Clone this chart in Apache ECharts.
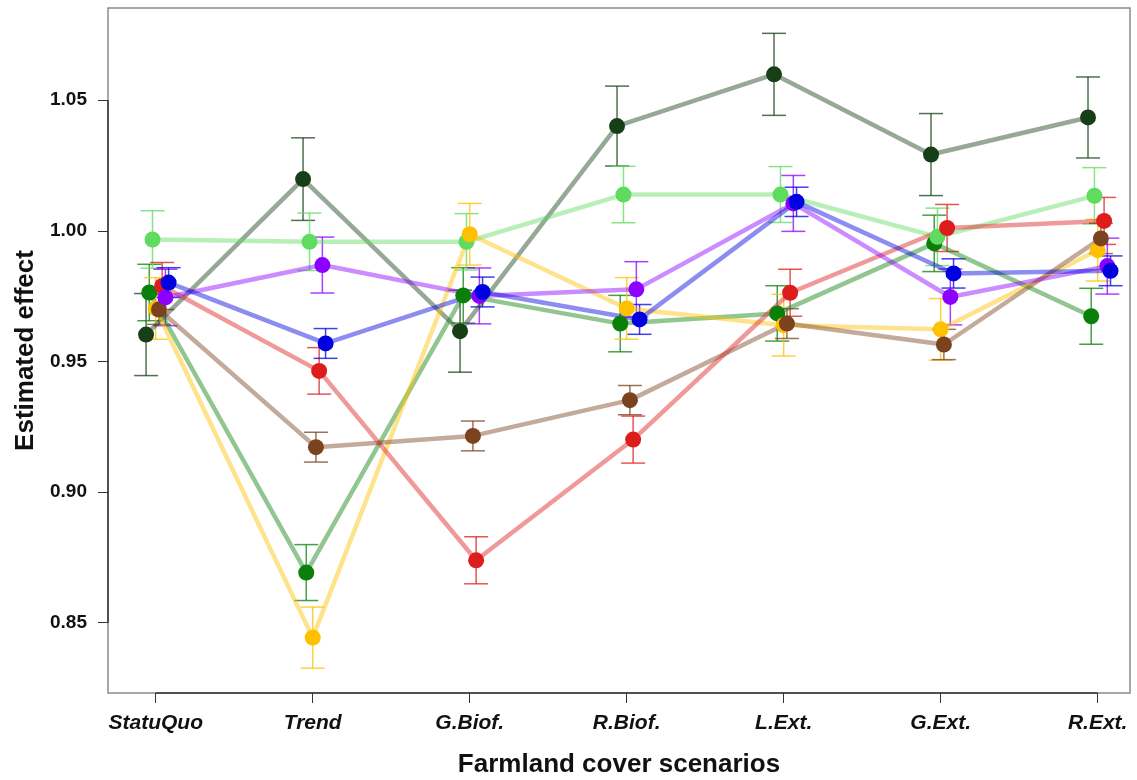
<!DOCTYPE html>
<html>
<head>
<meta charset="utf-8">
<script src="https://cdn.jsdelivr.net/npm/echarts@6/dist/echarts.min.js"></script>
<style>
html,body{margin:0;padding:0;background:#fff;}
#chart{width:1137px;height:780px;}
</style>
</head>
<body>
<div id="chart"></div>
<script>
const categories = ['StatuQuo','Trend','G.Biof.','R.Biof.','L.Ext.','G.Ext.','R.Ext.'];
const yTicks = [0.85, 0.90, 0.95, 1.00, 1.05];

const darkGreen    = [0.9603, 1.0198, 0.9616, 1.0401, 1.0599, 1.0292, 1.0434];
const darkGreenErr = [0.0157, 0.0158, 0.0157, 0.0153, 0.0157, 0.0157, 0.0155];
const lightGreen    = [0.9967, 0.9958, 0.9958, 1.0139, 1.0139, 0.9977, 1.0134];
const lightGreenErr = [0.0110, 0.0110, 0.0108, 0.0108, 0.0107, 0.0110, 0.0108];
const green    = [0.9764, 0.8692, 0.9753, 0.9645, 0.9684, 0.9952, 0.9673];
const greenErr = [0.0108, 0.0107, 0.0106, 0.0108, 0.0106, 0.0108, 0.0107];
const yellow    = [0.9703, 0.8443, 0.9987, 0.9703, 0.9639, 0.9623, 0.9926];
const yellowErr = [0.0118, 0.0117, 0.0118, 0.0118, 0.0118, 0.0118, 0.0118];
const brown    = [0.9699, 0.9172, 0.9215, 0.9352, 0.9645, 0.9565, 0.9971];
const brownErr = [0.0057, 0.0057, 0.0057, 0.0056, 0.0057, 0.0058, 0.0058];
const red    = [0.9789, 0.9464, 0.8739, 0.9201, 0.9763, 1.0011, 1.0038];
const redErr = [0.0090, 0.0089, 0.0090, 0.0090, 0.0090, 0.0090, 0.0090];
const purple    = [0.9745, 0.9869, 0.9751, 0.9776, 1.0105, 0.9747, 0.9865];
const purpleErr = [0.0108, 0.0107, 0.0107, 0.0106, 0.0107, 0.0107, 0.0107];
const blue    = [0.9802, 0.9569, 0.9766, 0.9661, 1.0111, 0.9837, 0.9847];
const blueErr = [0.0057, 0.0057, 0.0057, 0.0057, 0.0056, 0.0056, 0.0057];

const groups = [
  {name:'Group 1', vals:darkGreen,  err:darkGreenErr,  color:'#173f17', rgb:'23,63,23'},
  {name:'Group 2', vals:green,      err:greenErr,      color:'#0a800a', rgb:'10,128,10'},
  {name:'Group 3', vals:lightGreen, err:lightGreenErr, color:'#5fdc5f', rgb:'95,220,95'},
  {name:'Group 4', vals:yellow,     err:yellowErr,     color:'#ffc000', rgb:'255,192,0'},
  {name:'Group 5', vals:brown,      err:brownErr,      color:'#7b421e', rgb:'123,66,30'},
  {name:'Group 6', vals:red,        err:redErr,        color:'#dd1c1c', rgb:'221,28,28'},
  {name:'Group 7', vals:purple,     err:purpleErr,     color:'#8c00ff', rgb:'140,0,255'},
  {name:'Group 8', vals:blue,       err:blueErr,       color:'#0000e0', rgb:'0,0,224'}
];

const FONT = 'Liberation Sans, Arial, Helvetica, sans-serif';
const dodge = 0.0205;
const series = [];
groups.forEach((g, gi) => {
  const off = (gi - 3) * dodge;
  const errData = g.vals.map((v, i) => [i + 1 + off, v - g.err[i], v + g.err[i]]);
  const errColor = 'rgba(' + g.rgb + ',0.75)';
  series.push({
    type: 'custom',
    name: g.name,
    silent: true,
    data: errData,
    renderItem: function (params, api) {
      const x = api.value(0), lo = api.value(1), hi = api.value(2);
      const pHi = api.coord([x, hi]), pLo = api.coord([x, lo]);
      const w = 12;
      const st = {stroke: errColor, lineWidth: 1.5};
      return {type: 'group', children: [
        {type: 'line', shape: {x1: pHi[0], y1: pHi[1], x2: pLo[0], y2: pLo[1]}, style: st},
        {type: 'line', shape: {x1: pHi[0] - w, y1: pHi[1], x2: pHi[0] + w, y2: pHi[1]}, style: st},
        {type: 'line', shape: {x1: pLo[0] - w, y1: pLo[1], x2: pLo[0] + w, y2: pLo[1]}, style: st}
      ]};
    }
  });
  series.push({
    type: 'line',
    name: g.name,
    data: g.vals.map((v, i) => [i + 1 + off, v]),
    symbol: 'circle',
    symbolSize: 16,
    lineStyle: {color: g.color, width: 4.5, opacity: 0.45},
    itemStyle: {color: g.color, opacity: 1},
    emphasis: {disabled: true},
    animation: false
  });
});

// R-style axis segments (from first to last tick)
series.push({
  type: 'custom',
  silent: true,
  data: [[1, 7, yTicks[0], yTicks[yTicks.length - 1]]],
  renderItem: function (params, api) {
    const cs = params.coordSys;
    const xa = api.coord([api.value(0), yTicks[0]])[0];
    const xb = api.coord([api.value(1), yTicks[0]])[0];
    const ya = api.coord([1, api.value(2)])[1];
    const yb = api.coord([1, api.value(3)])[1];
    const yBottom = cs.y + cs.height;
    const st = {stroke: '#333', lineWidth: 1.5};
    return {type: 'group', children: [
      {type: 'line', shape: {x1: xa, y1: yBottom, x2: xb, y2: yBottom}, style: st},
      {type: 'line', shape: {x1: cs.x, y1: ya, x2: cs.x, y2: yb}, style: st}
    ]};
  }
});

const chart = echarts.init(document.getElementById('chart'), null, {renderer: 'canvas'});
chart.setOption({
  animation: false,
  backgroundColor: '#ffffff',
  grid: {left: 108, top: 8, right: 7, bottom: 87, show: true, borderColor: '#8a8a8a', borderWidth: 1.5, backgroundColor: 'transparent', containLabel: false, outerBoundsMode: 'none'},
  xAxis: {
    type: 'value',
    min: 0.696,
    max: 7.206,
    splitLine: {show: false},
    axisLine: {show: false},
    axisTick: {show: true, length: 10, inside: false, customValues: categories.map((c, i) => i + 1), lineStyle: {color: '#333', width: 1}},
    axisLabel: {
      customValues: categories.map((c, i) => i + 1),
      formatter: v => categories[Math.round(v) - 1] || '',
      fontFamily: FONT,
      fontWeight: 'bold', fontStyle: 'italic', fontSize: 21, color: '#111', margin: 20
    },
    name: 'Farmland cover scenarios',
    nameLocation: 'middle',
    nameGap: 59,
    nameTextStyle: {fontFamily: FONT, fontWeight: 'bold', fontSize: 26, color: '#111'}
  },
  yAxis: {
    type: 'value',
    min: 0.8231,
    max: 1.0853,
    splitLine: {show: false},
    axisLine: {show: false},
    axisTick: {show: true, length: 10, customValues: yTicks, lineStyle: {color: '#333', width: 1}},
    axisLabel: {
      customValues: yTicks,
      formatter: v => v.toFixed(2),
      fontFamily: FONT,
      fontWeight: 'bold', fontSize: 19, color: '#111', margin: 21,
      padding: [5, 0, 0, 0]
    },
    name: 'Estimated effect',
    nameLocation: 'middle',
    nameGap: 69,
    nameTextStyle: {fontFamily: FONT, fontWeight: 'bold', fontSize: 26, color: '#111'}
  },
  series: series
});
</script>
</body>
</html>
